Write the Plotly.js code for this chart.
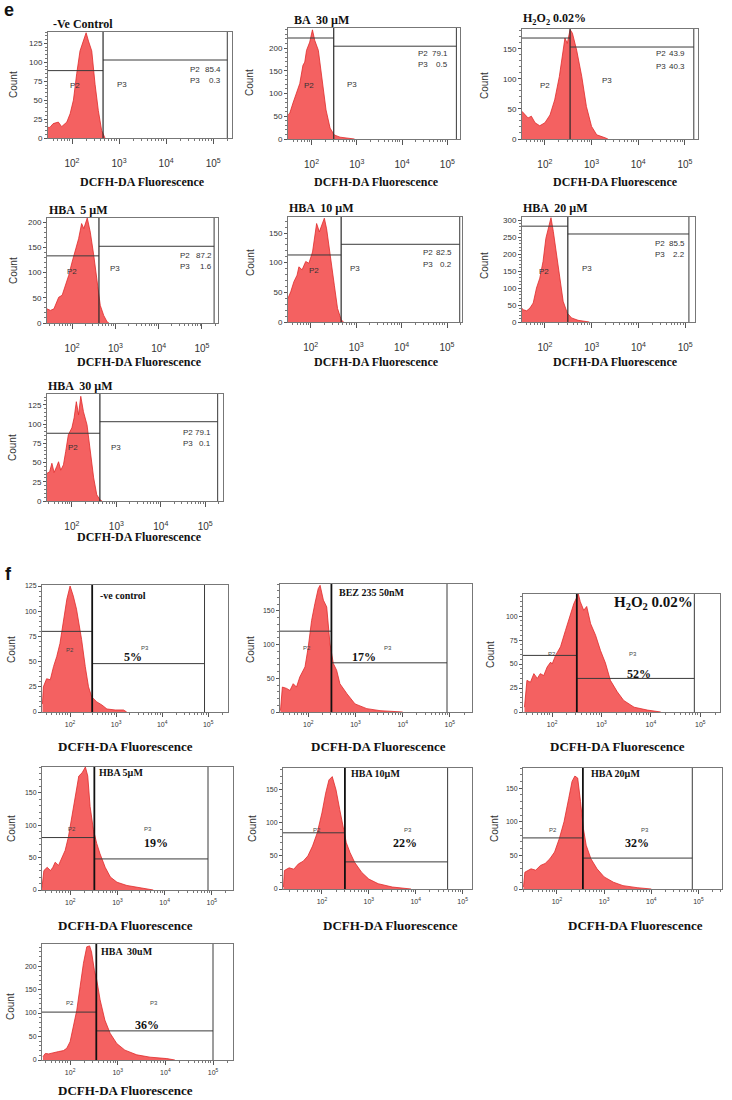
<!DOCTYPE html>
<html><head><meta charset="utf-8">
<script src="https://cdn.plot.ly/plotly-3.0.1.min.js"></script>
<style>html,body{margin:0;padding:0;background:#fff}#chart{width:732px;height:1100px}</style>
</head><body><div id="chart"></div>
<script>
// ---------- DATA (x in log10 fluorescence, y = count) ----------
const eCtrlLogX  = [1.49,1.53,1.60,1.71,1.78,1.89,1.96,2.03,2.10,2.17,2.24,2.30,2.35,2.42,2.49,2.56,2.63,2.70];
const eCtrlCount = [14,14,19,21,15,21,32,50,85,115,128,139,128,115,71,36,10,0];
const eBA30LogX  = [1.48,1.52,1.59,1.67,1.74,1.81,1.85,1.89,1.96,2.02,2.07,2.15,2.22,2.32,2.41,2.50,2.63,2.85,2.95];
const eBA30Count = [53,57,79,100,122,162,169,195,213,240,217,195,137,64,24,9,4,1,0];
const eH2O2LogX  = [1.51,1.57,1.64,1.71,1.79,1.89,2.00,2.11,2.21,2.31,2.38,2.43,2.48,2.54,2.59,2.68,2.79,2.89,3.00,3.11,3.29,3.35];
const eH2O2Count = [46,40,35,38,27,22,27,40,65,104,143,168,159,182,176,148,104,54,21,7,2,0];
const eHBA5LogX  = [1.42,1.50,1.58,1.65,1.69,1.77,1.85,1.92,2.00,2.08,2.15,2.22,2.27,2.35,2.42,2.50,2.58,2.65,2.73,2.81,2.85];
const eHBA5Count = [28,25,28,42,51,55,75,94,121,147,167,197,187,208,180,134,81,35,15,2,0];
const eHBA10LogX = [1.50,1.56,1.63,1.70,1.74,1.81,1.89,1.96,2.04,2.13,2.19,2.24,2.30,2.35,2.44,2.52,2.59,2.67,2.72];
const eHBA10Count= [40,51,68,79,93,88,102,99,118,166,152,163,175,157,102,62,23,4,0];
const eHBA20LogX = [1.51,1.54,1.61,1.68,1.75,1.82,1.89,1.96,2.02,2.07,2.13,2.18,2.25,2.32,2.39,2.48,2.57,2.71,2.89,2.95];
const eHBA20Count= [40,36,33,41,56,100,129,178,246,276,307,266,202,129,61,26,12,5,2,0];
const eHBA30LogX = [1.44,1.50,1.55,1.60,1.66,1.70,1.75,1.81,1.86,1.92,2.00,2.05,2.10,2.15,2.20,2.26,2.34,2.41,2.49,2.56,2.64,2.68];
const eHBA30Count= [36,38,49,37,45,51,40,47,64,86,95,108,129,112,136,116,99,64,30,8,1,0];

const fCtrlLogX  = [1.40,1.42,1.49,1.57,1.64,1.71,1.78,1.86,1.93,2.00,2.07,2.14,2.25,2.33,2.40,2.47,2.58,2.69,2.80,2.98,3.16,3.23];
const fCtrlCount = [8,25,33,32,45,55,68,92,112,125,115,102,72,45,25,15,10,7,3,2,2,0];
const fBEZLogX   = [1.41,1.45,1.54,1.61,1.68,1.75,1.82,1.93,2.00,2.07,2.14,2.21,2.25,2.32,2.39,2.46,2.53,2.60,2.67,2.82,2.99,3.24,3.52,3.88,4.00];
const fBEZCount  = [2,37,35,32,42,37,52,67,97,136,161,183,188,166,156,101,72,62,42,27,12,5,2,1,0];
const fH2O2LogX  = [1.44,1.49,1.56,1.63,1.70,1.76,1.83,1.90,1.97,2.00,2.07,2.17,2.27,2.37,2.44,2.53,2.57,2.64,2.70,2.78,2.88,2.98,3.08,3.18,3.32,3.45,3.66,3.93,4.20];
const fH2O2Count = [5,33,31,40,35,40,38,47,52,50,59,68,85,103,113,123,115,106,110,92,80,64,51,33,21,12,5,2,0];
const fHBA5LogX  = [1.40,1.44,1.51,1.58,1.63,1.68,1.75,1.82,1.89,1.96,2.04,2.11,2.18,2.25,2.32,2.37,2.42,2.49,2.56,2.63,2.74,2.85,2.99,3.20,3.48,3.76];
const fHBA5Count = [4,30,35,30,35,43,38,51,61,82,114,145,176,181,190,176,129,93,72,56,35,20,12,7,3,0];
const fHBA10LogX = [1.18,1.20,1.30,1.40,1.50,1.60,1.70,1.80,1.90,2.00,2.08,2.15,2.22,2.30,2.38,2.45,2.52,2.60,2.70,2.85,3.00,3.20,3.50,3.90];
const fHBA10Count= [3,28,32,30,38,42,50,65,85,115,145,165,170,150,120,95,70,55,40,25,15,8,3,0];
const fHBA20LogX = [1.29,1.32,1.45,1.55,1.65,1.75,1.85,1.95,2.05,2.15,2.25,2.32,2.38,2.44,2.50,2.56,2.62,2.72,2.85,3.00,3.20,3.40,3.70,4.00];
const fHBA20Count= [3,25,30,28,35,38,45,55,75,100,135,160,168,165,130,90,65,45,30,18,10,5,2,0];
const fHBA30LogX = [1.43,1.48,1.55,1.65,1.76,1.86,1.93,2.00,2.07,2.14,2.21,2.28,2.35,2.41,2.45,2.51,2.56,2.63,2.73,2.84,2.98,3.15,3.40,3.68,4.03,4.20];
const fHBA30Count= [7,14,13,16,18,20,25,39,71,106,156,206,241,243,230,191,170,128,85,57,35,21,11,6,3,0];

const panelTitles = ['-Ve Control','BA  30 µM','H<sub>2</sub>O<sub>2</sub> 0.02%','HBA  5 µM','HBA  10 µM','HBA  20 µM','HBA  30 µM',
                     '-ve control','BEZ 235 50nM','H<sub>2</sub>O<sub>2</sub> 0.02%','HBA 5µM','HBA 10µM','HBA 20µM','HBA  30uM'];
// gates (log10 split, P2 level, P3 level, log10 right edge)
const gateSplitLog = [2.66,2.49,2.54,2.62,2.67,2.49,2.63, 2.48,2.49,2.50,2.51,2.49,2.55,2.55];
const gateP2Count  = [89,222,168,133,113,282,88, 80,120,59,81,85,76,102];
const gateP3Count  = [103,204,153,152,131,259,103, 48,73,35,48,41,46,62];
const gateRightLog = [5.30,5.20,5.19,5.28,5.28,5.08,5.28, 4.92,4.94,4.88,4.92,4.68,4.87,5.00];
const eP2Pct = ['85.4','79.1','43.9','87.2','82.5','85.5','79.1'];
const eP3Pct = ['0.3','0.5','40.3','1.6','0.2','2.2','0.1'];
const fP3Pct = ['5%','17%','52%','19%','22%','32%','36%'];
const xTickVals = [100,1000,10000,100000];
const xTickText = ['10<sup>2</sup>','10<sup>3</sup>','10<sup>4</sup>','10<sup>5</sup>'];
const xAxisLabel = 'DCFH-DA Fluorescence';
const yAxisLabel = 'Count';

// ---------- LAYOUT / STYLE ----------
const W = 732, H = 1100;
const SERIF = 'Liberation Serif, Times New Roman, serif';
const SANS = 'Liberation Sans, Arial, sans-serif';
const series = [
  [eCtrlLogX,eCtrlCount],[eBA30LogX,eBA30Count],[eH2O2LogX,eH2O2Count],[eHBA5LogX,eHBA5Count],
  [eHBA10LogX,eHBA10Count],[eHBA20LogX,eHBA20Count],[eHBA30LogX,eHBA30Count],
  [fCtrlLogX,fCtrlCount],[fBEZLogX,fBEZCount],[fH2O2LogX,fH2O2Count],[fHBA5LogX,fHBA5Count],
  [fHBA10LogX,fHBA10Count],[fHBA20LogX,fHBA20Count],[fHBA30LogX,fHBA30Count]
];
// pixel boxes [left,right,top,bottom], x range (log), y top, y step
const geo = [
  {b:[48,232,32,138],  xr:[1.49,5.40], yt:140, dy:25},
  {b:[288,460,28,139], xr:[1.48,5.28], yt:244, dy:50},
  {b:[522,698,29,139], xr:[1.51,5.28], yt:183, dy:50},
  {b:[47,218,218,323], xr:[1.42,5.37], yt:208, dy:50},
  {b:[288,462,217,322],xr:[1.50,5.33], yt:177, dy:50},
  {b:[522,695,217,322],xr:[1.51,5.21], yt:309, dy:50},
  {b:[47,223,394,501], xr:[1.44,5.40], yt:139, dy:25},
  {b:[42,228,585,712], xr:[1.39,5.43], yt:126, dy:25},
  {b:[280,472,584,712],xr:[1.40,5.47], yt:190, dy:50},
  {b:[523,720,594,712],xr:[1.41,5.40], yt:123, dy:25},
  {b:[42,233,767,890], xr:[1.40,5.45], yt:190, dy:50},
  {b:[283,472,768,889],xr:[1.17,5.20], yt:183, dy:50},
  {b:[523,722,768,889],xr:[1.28,5.50], yt:180, dy:50},
  {b:[42,233,944,1060],xr:[1.41,5.42], yt:247, dy:50}
];
// text positions (pixels)
const ePos = [
  {t:[52,24],  st:[189,222,70,80],  p2:[75,86],  p3:[122,84], cnt:[13,85],  xl:[142,182]},
  {t:[293,20], st:[417,449,53,64],  p2:[309,85], p3:[352,84], cnt:[250,83], xl:[376,182]},
  {t:[522,19], st:[655,686,53,66],  p2:[545,85], p3:[607,81], cnt:[484,85], xl:[615,182]},
  {t:[48,210], st:[179,213,255,266],p2:[72,271], p3:[115,268],cnt:[13,271], xl:[139,362]},
  {t:[288,208],st:[422,453,253,264],p2:[314,270],p3:[355,269],cnt:[250,263],xl:[376,362]},
  {t:[522,208],st:[654,686,243,254],p2:[544,271],p3:[587,268],cnt:[484,265],xl:[615,362]},
  {t:[47,386], st:[182,212,432,443],p2:[73,448], p3:[116,447],cnt:[13,448], xl:[139,537]}
];
const fPos = [
  {t:[99,595,10],  pct:[133,657], p2:[70,650],  p3:[145,648], cnt:[11,650],  xl:[125,746]},
  {t:[338,592,10], pct:[364,657], p2:[307,648], p3:[388,648], cnt:[250,650], xl:[378,746]},
  {t:[613,603,15], pct:[639,674], p2:[552,654], p3:[633,654], cnt:[490,655], xl:[617,746]},
  {t:[98,772,10],  pct:[156,843], p2:[72,829],  p3:[148,829], cnt:[11,829],  xl:[125,925]},
  {t:[350,773,10], pct:[405,843], p2:[317,830], p3:[408,830], cnt:[252,829], xl:[390,925]},
  {t:[590,773,10], pct:[637,843], p2:[553,830], p3:[645,830], cnt:[494,829], xl:[635,925]},
  {t:[100,951,10], pct:[147,1025],p2:[70,1003], p3:[154,1003],cnt:[10,1007], xl:[125,1090]}
];

const traces = [];
const layout = {
  width: W, height: H, margin:{l:0,r:0,t:0,b:0}, showlegend:false,
  paper_bgcolor:'#fff', plot_bgcolor:'#fff', annotations:[], font:{family:SANS, color:'#222'}
};
const px = x => x / W, py = y => 1 - y / H;
function ann(x, y, text, o) {
  layout.annotations.push(Object.assign({xref:'paper', yref:'paper', x:px(x), y:py(y), text:text,
    showarrow:false, xanchor:'left', yanchor:'middle', borderpad:0,
    font:{family:SANS, size:8, color:'#333'}}, o||{}));
}

series.forEach((s, i) => {
  const g = geo[i], isE = i < 7, k = i + 1;
  const xa = k === 1 ? 'x' : 'x' + k, ya = k === 1 ? 'y' : 'y' + k;
  const lo = Math.pow(10, g.xr[0]);
  const sp = Math.pow(10, gateSplitLog[i]), rt = Math.pow(10, gateRightLog[i]);
  traces.push({type:'scatter', mode:'lines', x:s[0].map(v => Math.pow(10, v)), y:s[1], xaxis:xa, yaxis:ya,
    fill:'tozeroy', fillcolor:'rgba(243,84,84,0.92)', line:{color:'#e02a2a', width:0.8}, hoverinfo:'skip', cliponaxis:true});
  // gate lines
  traces.push({type:'scatter', mode:'lines', xaxis:xa, yaxis:ya, hoverinfo:'skip',
    x:[lo, sp, null, sp, rt, null, rt, rt],
    y:[gateP2Count[i], gateP2Count[i], null, gateP3Count[i], gateP3Count[i], null, 0, g.yt],
    line:{color:'#3a3a3a', width:1}});
  traces.push({type:'scatter', mode:'lines', xaxis:xa, yaxis:ya, hoverinfo:'skip',
    x:[sp, sp], y:[0, g.yt], line:{color: isE ? '#2a2a2a' : '#111', width: isE ? 1.2 : 1.8}});
  const [L, R, T, B] = g.b;
  layout['xaxis' + (k === 1 ? '' : k)] = {
    type:'log', range:g.xr, domain:[L / W, R / W], anchor:ya,
    tickmode:'array', tickvals:xTickVals, ticktext:xTickText,
    ticks:'outside', ticklen: isE ? 5 : 4, tickcolor:'#555', ticklabelstandoff: isE ? 11 : 2,
    minor:{dtick:'D1', ticks:'outside', ticklen:2, tickcolor:'#777', showgrid:false},
    showline:true, mirror:true, linecolor:'#777', linewidth:1, showgrid:false, zeroline:false,
    tickfont:{family:SANS, size: isE ? 10 : 7, color:'#333'}, fixedrange:true
  };
  layout['yaxis' + (k === 1 ? '' : k)] = {
    range:[0, g.yt], domain:[1 - B / H, 1 - T / H], anchor:xa,
    tickmode:'linear', tick0:0, dtick:g.dy, ticks:'outside', ticklen:3, tickcolor:'#555',
    minor:{ticks:'outside', ticklen:2, nticks:5, tickcolor:'#777', showgrid:false},
    showline:true, mirror:true, linecolor:'#777', linewidth:1, showgrid:false, zeroline:false,
    tickfont:{family:SANS, size: isE ? 8 : 7, color:'#333'}, fixedrange:true
  };
  if (isE) {
    const p = ePos[i];
    ann(p.t[0], p.t[1], panelTitles[i], {font:{family:SERIF, size:12, color:'#111', weight:'bold'}});
    ann(p.st[0], p.st[2], 'P2', {font:{family:SANS, size:8, color:'#333'}});
    ann(p.st[0], p.st[3], 'P3', {font:{family:SANS, size:8, color:'#333'}});
    ann(p.st[1], p.st[2], eP2Pct[i], {xanchor:'right', font:{family:SANS, size:8, color:'#333'}});
    ann(p.st[1], p.st[3], eP3Pct[i], {xanchor:'right', font:{family:SANS, size:8, color:'#333'}});
    ann(p.p2[0], p.p2[1], 'P2', {xanchor:'center', font:{family:SANS, size:8, color:'#333'}});
    ann(p.p3[0], p.p3[1], 'P3', {xanchor:'center', font:{family:SANS, size:8, color:'#333'}});
    ann(p.cnt[0], p.cnt[1], yAxisLabel, {xanchor:'center', textangle:-90, font:{family:SANS, size:10, color:'#333'}});
    ann(p.xl[0], p.xl[1], xAxisLabel, {xanchor:'center', font:{family:SERIF, size:12, color:'#111', weight:'bold'}});
  } else {
    const p = fPos[i - 7];
    ann(p.t[0], p.t[1], panelTitles[i], {font:{family:SERIF, size:p.t[2], color:'#111', weight:'bold'}});
    ann(p.pct[0], p.pct[1], fP3Pct[i - 7], {xanchor:'center', font:{family:SERIF, size:12, color:'#111', weight:'bold'}});
    ann(p.p2[0], p.p2[1], 'P2', {xanchor:'center', font:{family:SANS, size:6, color:'#444'}});
    ann(p.p3[0], p.p3[1], 'P3', {xanchor:'center', font:{family:SANS, size:6, color:'#444'}});
    ann(p.cnt[0], p.cnt[1], yAxisLabel, {xanchor:'center', textangle:-90, font:{family:SANS, size:10, color:'#333'}});
    ann(p.xl[0], p.xl[1], xAxisLabel, {xanchor:'center', font:{family:SERIF, size:13, color:'#111', weight:'bold'}});
  }
});
ann(9, 10, 'e', {xanchor:'center', font:{family:SANS, size:18, color:'#111', weight:'bold'}});
ann(8, 574, 'f', {xanchor:'center', font:{family:SANS, size:18, color:'#111', weight:'bold'}});

Plotly.newPlot('chart', traces, layout, {staticPlot:true, displayModeBar:false});
</script></body></html>
